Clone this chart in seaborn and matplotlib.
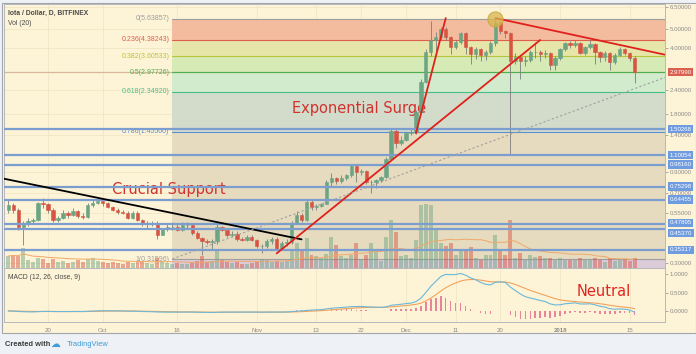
import numpy as np
import pandas as pd
import matplotlib
matplotlib.use('Agg')
import matplotlib.pyplot as plt
import matplotlib.dates as mdates
from matplotlib.patches import Rectangle
from matplotlib.ticker import NullLocator
from matplotlib.transforms import blended_transform_factory
import seaborn as sns

# ---- data (IOTA/USD daily, Bitfinex) ----
dates = pd.date_range('2017-09-12', '2018-01-16', freq='D')
first_open = 0.569
close = [0.604, 0.569, 0.464, 0.487, 0.499, 0.505, 0.619, 0.612,
         0.569, 0.505, 0.517, 0.549, 0.536, 0.563, 0.530, 0.523, 0.604, 0.619,
         0.634, 0.619, 0.590, 0.569, 0.556, 0.549, 0.517, 0.549, 0.505, 0.481,
         0.487, 0.487, 0.422, 0.453, 0.464, 0.464, 0.448, 0.476, 0.476, 0.432,
         0.407, 0.392, 0.388, 0.392, 0.464, 0.448, 0.422, 0.427, 0.402, 0.397,
         0.412, 0.397, 0.369, 0.369, 0.392, 0.402, 0.356, 0.383, 0.388, 0.487,
         0.536, 0.505, 0.626, 0.590, 0.598, 0.612, 0.797, 0.836, 0.806, 0.836,
         0.866, 0.965, 0.898, 0.909, 0.797, 0.797, 0.816, 0.846, 1.052, 1.469,
         1.275, 1.321, 1.434, 1.46, 1.846, 2.65, 3.79, 4.38, 4.54, 5.00,
         4.54, 4.03, 4.28, 4.77, 4.03, 3.70, 3.93, 3.66, 3.79, 4.23,
         5.37, 4.88, 4.77, 3.41, 3.57, 3.41, 3.45, 3.79, 3.79, 3.70,
         3.75, 3.25, 3.53, 3.93, 4.23, 4.13, 4.23, 3.75, 4.03, 4.18,
         3.79, 3.57, 3.75, 3.36, 3.66, 3.93, 3.75, 3.53, 2.98]
high = [0.64, 0.62, 0.58, 0.50, 0.52, 0.52, 0.63, 0.66,
        0.62, 0.58, 0.53, 0.57, 0.56, 0.58, 0.57, 0.55, 0.62, 0.64,
        0.66, 0.65, 0.63, 0.60, 0.58, 0.57, 0.56, 0.56, 0.56, 0.51,
        0.50, 0.50, 0.50, 0.46, 0.48, 0.49, 0.48, 0.49, 0.49, 0.48,
        0.44, 0.41, 0.40, 0.40, 0.48, 0.47, 0.45, 0.44, 0.44, 0.41,
        0.42, 0.42, 0.40, 0.38, 0.40, 0.41, 0.41, 0.39, 0.40, 0.50,
        0.56, 0.55, 0.64, 0.64, 0.61, 0.62, 0.82, 0.89, 0.85, 0.87,
        0.88, 0.99, 0.97, 0.93, 0.92, 0.82, 0.83, 0.86, 1.08, 1.52,
        1.50, 1.38, 1.46, 1.50, 1.90, 2.75, 3.95, 5.50, 4.80, 5.15,
        5.10, 4.60, 4.40, 4.85, 4.80, 4.10, 4.05, 4.00, 3.90, 4.35,
        5.64, 5.50, 4.95, 4.80, 3.75, 3.65, 3.60, 3.90, 4.30, 3.90,
        3.90, 3.80, 3.60, 4.00, 4.30, 4.35, 4.40, 4.30, 4.10, 4.40,
        4.25, 3.85, 3.85, 3.80, 3.75, 4.05, 4.00, 3.80, 3.60]
low = [0.55, 0.55, 0.45, 0.374, 0.47, 0.48, 0.50, 0.58,
       0.55, 0.49, 0.49, 0.51, 0.52, 0.53, 0.52, 0.51, 0.52, 0.59,
       0.61, 0.60, 0.58, 0.56, 0.54, 0.54, 0.51, 0.51, 0.50, 0.47,
       0.46, 0.47, 0.40, 0.42, 0.44, 0.45, 0.44, 0.44, 0.46, 0.42,
       0.40, 0.33, 0.38, 0.35, 0.38, 0.44, 0.41, 0.41, 0.39, 0.39,
       0.39, 0.39, 0.36, 0.34, 0.36, 0.38, 0.35, 0.35, 0.37, 0.38,
       0.48, 0.49, 0.50, 0.57, 0.57, 0.59, 0.61, 0.76, 0.78, 0.79,
       0.82, 0.85, 0.80, 0.87, 0.78, 0.70, 0.74, 0.80, 0.84, 1.04,
       1.20, 1.24, 1.30, 1.40, 1.42, 1.80, 2.60, 3.60, 3.80, 4.40,
       4.40, 3.70, 3.95, 4.20, 3.70, 3.30, 3.50, 3.40, 3.45, 3.70,
       4.10, 4.70, 4.50, 1.10, 3.30, 2.75, 3.20, 3.35, 3.55, 3.40,
       3.55, 3.05, 3.05, 3.45, 3.85, 4.00, 4.05, 3.70, 3.65, 3.95,
       3.30, 3.35, 3.40, 3.05, 3.30, 3.60, 3.65, 3.40, 2.62]
volume = [12, 13, 12, 20, 8, 6, 10, 9,
          5, 9, 6, 7, 5, 6, 8, 6, 9, 10,
          7, 6, 5, 6, 5, 4, 6, 5, 7, 6,
          5, 4, 10, 7, 5, 4, 5, 4, 4, 6,
          7, 12, 6, 7, 18, 8, 6, 5, 6, 4,
          4, 5, 7, 9, 8, 6, 7, 6, 7, 17,
          25, 18, 30, 13, 12, 10, 14, 31, 23, 12,
          10, 13, 25, 9, 13, 25, 16, 7, 31, 48,
          36, 12, 13, 10, 28, 63, 64, 63, 40, 25,
          22, 25, 13, 17, 17, 21, 10, 8, 13, 13,
          33, 17, 13, 48, 10, 15, 8, 13, 11, 12,
          10, 10, 8, 10, 8, 8, 8, 10, 8, 8,
          10, 8, 6, 10, 7, 8, 9, 7, 10]

fib_ratios = ['0', '0.236', '0.382', '0.5', '0.618', '0.786', '1']
fib_prices = [5.63857, 4.38243, 3.60533, 2.97726, 2.34920, 1.45500, 0.31596]
fib_start = '2017-10-15'
support_levels = [1.50268, 1.10054, 0.98160, 0.75298, 0.64455, 0.47895, 0.45370, 0.35317]
last_price = 2.97990

price_ticks = [6.5, 5.0, 4.0, 2.4, 1.8, 1.4, 0.9, 0.7, 0.55, 0.3]
price_tick_labels = ['6.50000', '5.00000', '4.00000', '2.40000', '1.80000', '1.40000',
                     '0.90000', '0.70000', '0.55000', '0.30000']
date_ticks = ['2017-09-20', '2017-10-01', '2017-10-16', '2017-11-01', '2017-11-13',
              '2017-11-22', '2017-12-01', '2017-12-11', '2017-12-20', '2018-01-01', '2018-01-15']
date_tick_labels = ['20', 'Oct', '16', 'Nov', '13', '22', 'Dec', '11', '20', '2018', '15']

# drawn trend lines: (start date, start price, end date, end price)
black_line = ['2017-09-11', 0.83, '2017-11-10', 0.40]
red_line_long = ['2017-11-05', 0.338, '2017-12-28', 4.38]
red_line_steep = ['2017-12-03', 1.43, '2017-12-09', 5.70]
red_line_down = ['2017-12-19', 5.70, '2018-01-23', 3.63]
fib_diag = ['2017-10-15', 0.31596, '2018-02-23', 5.63857]
peak_mark = ['2017-12-19', 5.64]

# ---- styling ----
sns.set_theme(style='white')
plt.rcParams['font.family'] = ['DejaVu Sans']
small_font = ['Liberation Sans', 'DejaVu Sans']

cream = '#fdf3d6'
up_col, dn_col, wick_col = '#6ba583', '#d75442', '#7d7d7d'
grid_col = '#f1e5c4'
blue_line = '#7b9dd0'
blue_box = '#6f9ce0'
tick_gray = '#8c8c8c'

W, H = 696, 354
def fx(px):
    return px / W
def fy(py):
    return 1 - py / H

fig = plt.figure(figsize=(W / 100, H / 100), dpi=100, facecolor='#eef1f5')
fig.patches.append(Rectangle((fx(2), fy(333)), fx(696) - fx(2), fy(3) - fy(333),
                             transform=fig.transFigure, fc=cream, ec='#a3a6ab', lw=0.8,
                             zorder=-10))

rect_price = [fx(4), fy(268), fx(665) - fx(4), fy(4) - fy(268)]
rect_macd = [fx(4), fy(322), fx(665) - fx(4), fy(268) - fy(322)]

xnum = mdates.date2num(dates)
ref = mdates.date2num(pd.Timestamp('2017-09-20'))
xlim = (ref - 8.85, ref + 124.1)
ylim = (0.2836, 6.75)
opens = [first_open] + close[:-1]

def dn(s):
    return mdates.date2num(pd.Timestamp(s))

# background layer: fib zones, grid, lines
ax_bg = fig.add_axes(rect_price, zorder=1)
ax_bg.set_facecolor(cream)
ax_bg.set_yscale('log')
ax_bg.set_xlim(*xlim)
ax_bg.set_ylim(*ylim)
ax_bg.yaxis.set_minor_locator(NullLocator())
ax_bg.set_xticks([dn(d) for d in date_ticks])
ax_bg.set_xticklabels([])
ax_bg.tick_params(axis='x', length=0)
ax_bg.yaxis.tick_right()
ax_bg.set_yticks(price_ticks)
ax_bg.set_yticklabels(price_tick_labels, fontfamily=small_font)
ax_bg.tick_params(axis='y', length=2, width=0.5, pad=1.5, labelsize=4.4,
                  colors=tick_gray, labelcolor=tick_gray)
ax_bg.grid(True, color=grid_col, lw=0.6)
for s in ax_bg.spines.values():
    s.set_color('#b5b8bd')
    s.set_linewidth(0.7)

fib_fill = ['#f3bc9e', '#e6e6aa', '#d6eab6', '#d2ebcd', '#d3dccb', '#e6dbbe']
fib_line = ['#9e9e9e', '#e25c4e', '#b9c43d', '#4caf50', '#45bf8a', '#5a8fd6', '#9e9e9e']
fx0 = dn(fib_start)
for i in range(len(fib_fill)):
    ax_bg.fill_between([fx0, xlim[1]], fib_prices[i + 1], fib_prices[i],
                       color=fib_fill[i], lw=0, zorder=1)
ax_bg.fill_between([fx0, xlim[1]], ylim[0], fib_prices[-1], color='#dccbd9', lw=0, zorder=1)
ax_bg.axhline(last_price, color='#d8b89c', lw=0.9, zorder=2)
for r, p, c in zip(fib_ratios, fib_prices, fib_line):
    ax_bg.plot([fx0, xlim[1]], [p, p], color=c, lw=0.8, zorder=3)
    ax_bg.annotate(f'{r}({p:.5f})', (fx0, p), xytext=(-2, 0), textcoords='offset points',
                   ha='right', va='center', fontsize=5, color=c, fontfamily=small_font)

# volume layer
ax_vol = fig.add_axes(rect_price, sharex=ax_bg, zorder=2)
ax_vol.patch.set_alpha(0)
ax_vol.set_ylim(0, 264)
vol_col = [up_col if c >= o else dn_col for o, c in zip(opens, close)]
ax_vol.bar(xnum, volume, width=0.8, color=vol_col, alpha=0.48, lw=0)
vol_ma = pd.Series(volume).rolling(20, min_periods=1).mean()
sns.lineplot(x=xnum, y=vol_ma.values, ax=ax_vol, color='#f0a868', lw=0.7)
ax_vol.axis('off')

# price layer: candles, drawings, text
ax = fig.add_axes(rect_price, sharex=ax_bg, zorder=3)
ax.patch.set_alpha(0)
ax.set_yscale('log')
ax.set_ylim(*ylim)
ax.set_xlim(*xlim)
ax.axis('off')

ax.vlines(xnum, low, high, color=wick_col, lw=0.6, zorder=3)
body_bottom = np.minimum(opens, close)
body_height = np.abs(np.array(close) - np.array(opens))
ax.bar(xnum, body_height, bottom=body_bottom, width=0.66, color=vol_col,
       edgecolor=vol_col, lw=0.4, zorder=4)

for p in support_levels:
    ax.axhline(p, color=blue_line, lw=1.6, zorder=5)

def seg(line, **kw):
    ax.plot([dn(line[0]), dn(line[2])], [line[1], line[3]], **kw)

seg(black_line, color='black', lw=1.3, zorder=6)
seg(red_line_long, color='#e0201b', lw=1.3, zorder=6)
seg(red_line_steep, color='#e0201b', lw=1.3, zorder=6)
seg(red_line_down, color='#e0201b', lw=1.3, zorder=6)
seg(fib_diag, color='#a0a0a0', lw=0.8, ls=(0, (2, 2)), zorder=6)
ax.scatter([dn(peak_mark[0])], [peak_mark[1]], s=120, color='#d8b64e', alpha=0.75,
           edgecolor='#c9a23a', lw=0.8, zorder=7)

ax.text(0.006, 0.965, 'Iota / Dollar, D, BITFINEX', transform=ax.transAxes, fontsize=4.9,
        color='#4a4a4a', fontfamily=small_font, fontweight='bold', va='center')
ax.text(0.006, 0.925, 'Vol (20)', transform=ax.transAxes, fontsize=4.9,
        color='#4a4a4a', fontfamily=small_font, va='center')
ax.text(0.537, 0.605, 'Exponential Surge', transform=ax.transAxes, fontsize=10.5,
        color='#d2322e', ha='center', va='center')
ax.text(0.249, 0.296, 'Crucial Support', transform=ax.transAxes, fontsize=10.5,
        color='#d2322e', ha='center', va='center')

# price-scale boxes
tr = blended_transform_factory(ax.transAxes, ax.transData)
box_shift = {0.47895: 1, 0.45370: -3}
for p in support_levels:
    ax.annotate(f'{p:.5f}', (1.0, p), xycoords=tr, xytext=(3.2, box_shift.get(p, 0)),
                textcoords='offset points', ha='left', va='center', fontsize=4.4,
                color='white', fontfamily=small_font, annotation_clip=False,
                bbox=dict(boxstyle='square,pad=0.28', fc=blue_box, ec='none'), zorder=10)
ax.annotate(f'{last_price:.5f}', (1.0, last_price), xycoords=tr, xytext=(3.2, 0),
            textcoords='offset points', ha='left', va='center', fontsize=4.4,
            color='white', fontfamily=small_font, annotation_clip=False,
            bbox=dict(boxstyle='square,pad=0.28', fc='#d9604f', ec='none'), zorder=10)

# MACD pane
s = pd.Series(close, index=dates)
macd = s.ewm(span=12, adjust=False).mean() - s.ewm(span=26, adjust=False).mean()
signal = macd.ewm(span=9, adjust=False).mean()
hist = macd - signal

axm = fig.add_axes(rect_macd, zorder=1)
axm.set_facecolor(cream)
axm.bar(xnum, hist.values, width=0.3, color='#e8839a', lw=0)
sns.lineplot(x=xnum, y=signal.values, ax=axm, color='#f2a35e', lw=0.8)
sns.lineplot(x=xnum, y=macd.values, ax=axm, color='#6bb8d8', lw=0.8)
axm.set_xlim(*xlim)
axm.set_ylim(-0.30, 1.17)
axm.set_xticks([dn(d) for d in date_ticks])
axm.set_xticklabels(date_tick_labels, fontfamily=small_font)
for lab in axm.get_xticklabels():
    if lab.get_text() == '2018':
        lab.set_fontweight('bold')
axm.yaxis.tick_right()
axm.set_yticks([1.0, 0.5, 0.0])
axm.set_yticklabels(['1.0000', '0.5000', '0.0000'], fontfamily=small_font)
axm.tick_params(axis='both', length=2, width=0.5, pad=1.5, labelsize=4.4,
                colors=tick_gray, labelcolor=tick_gray)
axm.tick_params(axis='x', pad=2.5)
axm.grid(True, axis='x', color=grid_col, lw=0.6)
for sp in axm.spines.values():
    sp.set_color('#b5b8bd')
    sp.set_linewidth(0.7)
axm.text(0.006, 0.82, 'MACD (12, 26, close, 9)', transform=axm.transAxes, fontsize=4.9,
         color='#4a4a4a', fontfamily=small_font, va='center')
axm.text(0.907, 0.57, 'Neutral', transform=axm.transAxes, fontsize=10.5,
         color='#e3261f', ha='center', va='center')

# footer
fig.text(fx(5), fy(344), 'Created with', fontsize=5.4, color='#3c3c3c',
         fontfamily=small_font, fontweight='bold', va='center')
fig.text(fx(50), fy(344), '\u2601', fontsize=7, color='#3f9bd9', va='center')
fig.text(fx(67), fy(344), 'TradingView', fontsize=5.4, color='#3f9bd9',
         fontfamily=small_font, va='center')

fig.savefig('out.png', dpi=100, facecolor=fig.get_facecolor())
